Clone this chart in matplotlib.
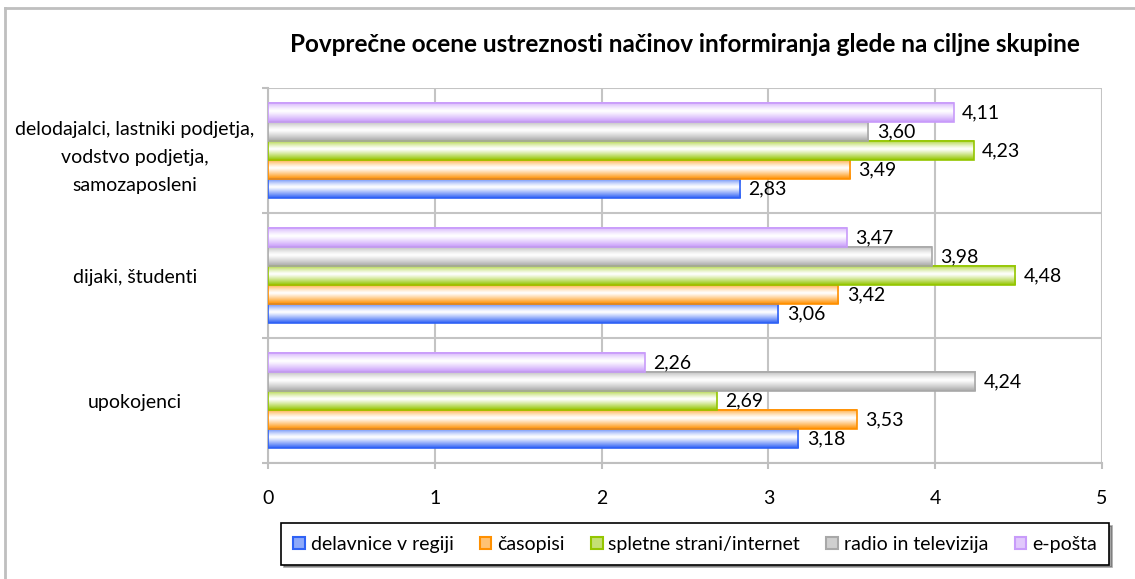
import numpy as np
import matplotlib.pyplot as plt
from matplotlib.patches import Patch, Rectangle
from matplotlib.colors import to_rgb

plt.rcParams['font.family'] = ['Lato', 'DejaVu Sans']

categories = ['upokojenci', 'dijaki, študenti',
              'delodajalci, lastniki podjetja,\nvodstvo podjetja,\nsamozaposleni']
series = ['delavnice v regiji', 'časopisi', 'spletne strani/internet',
          'radio in televizija', 'e-pošta']
colors = ['#2F62F5', '#FF9000', '#94C600', '#A8A8A8', '#C89BFA']

delavnice = [3.18, 3.06, 2.83]
casopisi = [3.53, 3.42, 3.49]
spletne = [2.69, 4.48, 4.23]
radio = [4.24, 3.98, 3.60]
eposta = [2.26, 3.47, 4.11]
values = [delavnice, casopisi, spletne, radio, eposta]

title = 'Povprečne ocene ustreznosti načinov informiranja glede na ciljne skupine'


def gradient(color, n=40):
    # light colour at top, white in the middle, strong colour at the bottom
    t = np.linspace(0, 1, n)
    w = np.where(t < 0.45, ((0.45 - t) / 0.45) ** 1.3 * 0.8,
                 ((t - 0.45) / 0.55) ** 1.1)
    c = np.array(to_rgb(color))
    rows = (1 - w)[:, None] * np.ones(3) + w[:, None] * c
    return rows[:, None, :]


fs = 14
fig = plt.figure(figsize=(11.35, 5.79), dpi=100)
ax = fig.add_axes([0.2361, 0.2003, 0.7348, 0.6477])

h = 0.152
for i, (name, vals, col) in enumerate(zip(series, values, colors)):
    img = gradient(col)
    for j, v in enumerate(vals):
        y = j + (i - 2) * h
        ax.imshow(img, extent=[0, v, y - h / 2, y + h / 2], aspect='auto',
                  zorder=3, interpolation='bilinear')
        ax.add_patch(Rectangle((0, y - h / 2), v, h, facecolor='none',
                               edgecolor=col, lw=1.2, zorder=4))
        ax.text(v + 0.05, y, f'{v:.2f}'.replace('.', ','), va='center',
                ha='left', fontsize=fs, zorder=5)

ax.set_xlim(0, 5)
ax.set_ylim(-0.5, 2.5)
ax.set_xticks(range(6))
ax.set_xticklabels([str(k) for k in range(6)], fontsize=fs)
ax.set_yticks([-0.5, 0.5, 1.5, 2.5])
ax.set_yticklabels([])
ax.set_yticks(range(3), minor=True)
ax.set_yticklabels(categories, minor=True, fontsize=fs, ha='center',
                   multialignment='center', linespacing=1.8)
ax.tick_params(axis='y', which='minor', length=0, pad=96)
ax.tick_params(axis='y', which='major', length=4.5, color='#BFBFBF', width=1.5)
ax.tick_params(axis='x', length=4.5, color='#BFBFBF', width=1.5, pad=15)
ax.grid(True, color='#C4C4C4', lw=1.5, zorder=1)
for s in ['top', 'right']:
    ax.spines[s].set_visible(False)
for s in ['left', 'bottom']:
    ax.spines[s].set_color('#BFBFBF')
    ax.spines[s].set_linewidth(1.5)

fig.text(0.6035, 0.924, title, ha='center', va='center', fontsize=17.5,
         fontweight='bold')

handles = [Patch(facecolor=gradient(c)[30, 0], edgecolor=c, lw=1.5) for c in colors]
leg = fig.legend(handles, series, loc='center', bbox_to_anchor=(0.6123, 0.0604),
                 ncol=5, fontsize=fs, frameon=True, fancybox=False, shadow=True,
                 handlelength=0.6, handleheight=0.6, handletextpad=0.3,
                 columnspacing=1.35, borderpad=0.62)
leg.get_frame().set_edgecolor('black')
leg.get_frame().set_linewidth(1.2)

fig.add_artist(plt.Line2D([5 / 1135, 1], [1 - 8 / 579, 1 - 8 / 579],
                          color='#BFBFBF', lw=2, transform=fig.transFigure))
fig.add_artist(plt.Line2D([5 / 1135, 5 / 1135], [0, 1 - 8 / 579],
                          color='#BFBFBF', lw=2, transform=fig.transFigure))

fig.savefig('out.png', dpi=100)
